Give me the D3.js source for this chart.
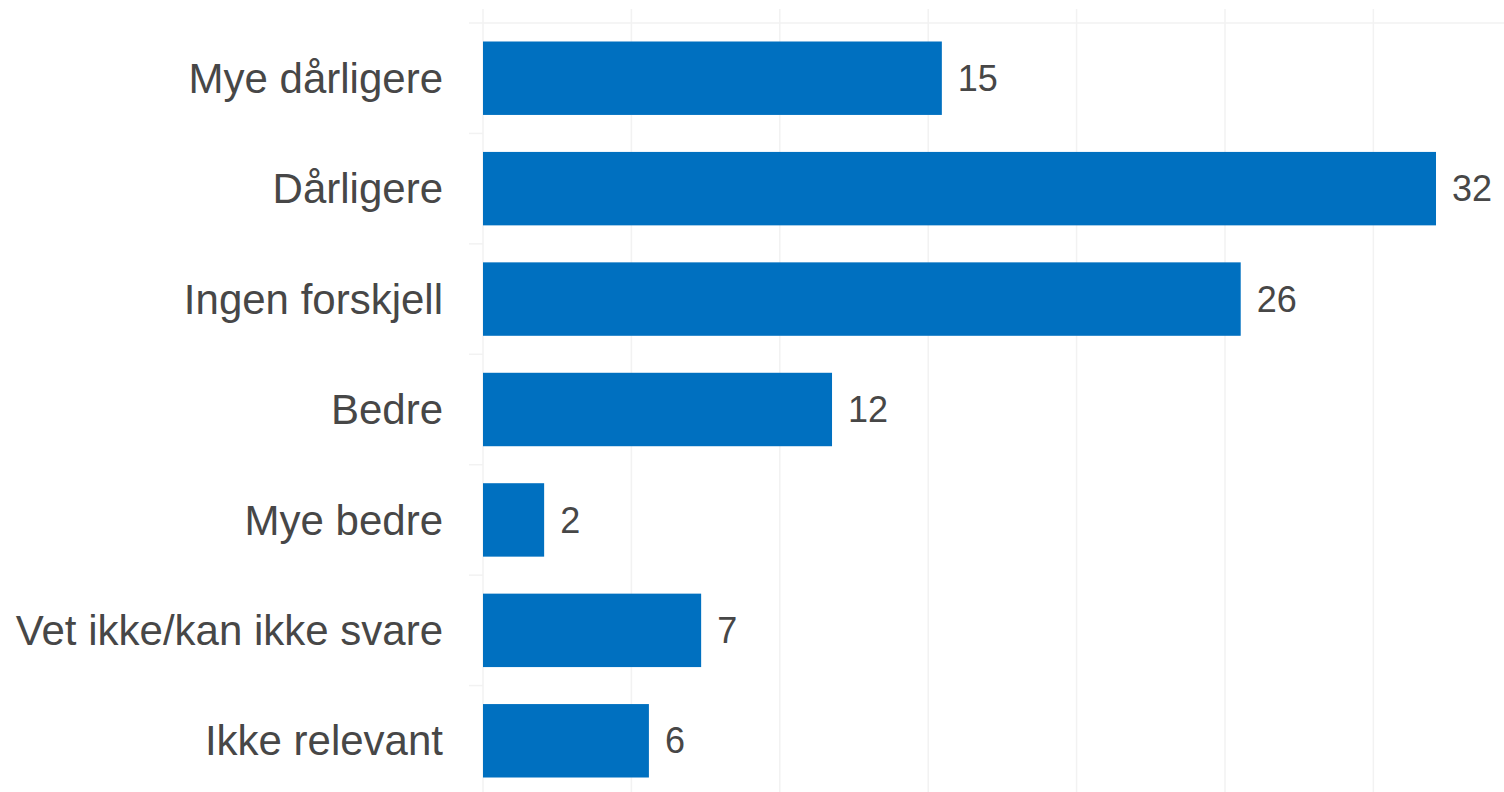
<!DOCTYPE html>
<html>
<head>
<meta charset="utf-8">
<script src="https://cdn.jsdelivr.net/npm/d3@7"></script>
<style>
  body { margin: 0; background: #fff; }
  svg { display: block; font-family: "Liberation Sans", Arial, sans-serif; }
</style>
</head>
<body>
<svg width="1504" height="792"></svg>
<script>
// categories top to bottom
const categories = ["Mye dårligere", "Dårligere", "Ingen forskjell", "Bedre", "Mye bedre", "Vet ikke/kan ikke svare", "Ikke relevant"]
// percent (labels are rounded)
const values = [15.46, 32.11, 25.53, 11.76, 2.06, 7.35, 5.59]
const gridTicks = [0, 5, 10, 15, 20, 25, 30]

const data = categories.map((c, i) => ({ cat: c, value: values[i] }))

const svg = d3.select('svg')
const width = +svg.attr('width')
const height = +svg.attr('height')

const xScale = d3.scaleLinear()
    .domain([0, 34.3])
    .range([483, 1501])

const yScale = d3.scaleBand()
    .domain(categories)
    .range([23, 796])
    .paddingInner(0.335)
    .paddingOuter(0.1675)

// vertical gridlines
svg.append('g')
    .selectAll('line')
    .data(gridTicks)
    .join('line')
      .attr('x1', d => xScale(d))
      .attr('x2', d => xScale(d))
      .attr('y1', 9)
      .attr('y2', height)
      .attr('stroke', '#f2f2f2')
      .attr('stroke-width', 1.5)

// top line
svg.append('line')
    .attr('x1', 469).attr('x2', width)
    .attr('y1', 23).attr('y2', 23)
    .attr('stroke', '#f2f2f2')
    .attr('stroke-width', 1.5)

// little ticks between the categories
const bounds = categories.map(c => yScale(c) - yScale.step() * yScale.paddingInner() / 2).slice(1)
bounds.push(796)
svg.append('g')
    .selectAll('line')
    .data(bounds)
    .join('line')
      .attr('x1', 469).attr('x2', xScale(0))
      .attr('y1', d => d).attr('y2', d => d)
      .attr('stroke', '#f2f2f2')
      .attr('stroke-width', 1.5)

// bars
svg.append('g')
    .selectAll('rect')
    .data(data)
    .join('rect')
      .attr('x', xScale(0))
      .attr('y', d => yScale(d.cat))
      .attr('width', d => xScale(d.value) - xScale(0))
      .attr('height', yScale.bandwidth())
      .attr('fill', '#0070c0')

// category labels
svg.append('g')
    .selectAll('text')
    .data(data)
    .join('text')
      .attr('x', xScale(0) - 40)
      .attr('y', d => yScale(d.cat) + yScale.bandwidth() / 2)
      .attr('dy', '0.35em')
      .attr('text-anchor', 'end')
      .attr('fill', '#474747')
      .style('font-size', '42px')
      .text(d => d.cat)

// value labels
svg.append('g')
    .selectAll('text')
    .data(data)
    .join('text')
      .attr('x', d => xScale(d.value) + 16)
      .attr('y', d => yScale(d.cat) + yScale.bandwidth() / 2)
      .attr('dy', '0.35em')
      .attr('fill', '#474747')
      .style('font-size', '36px')
      .text(d => Math.round(d.value))
</script>
</body>
</html>
